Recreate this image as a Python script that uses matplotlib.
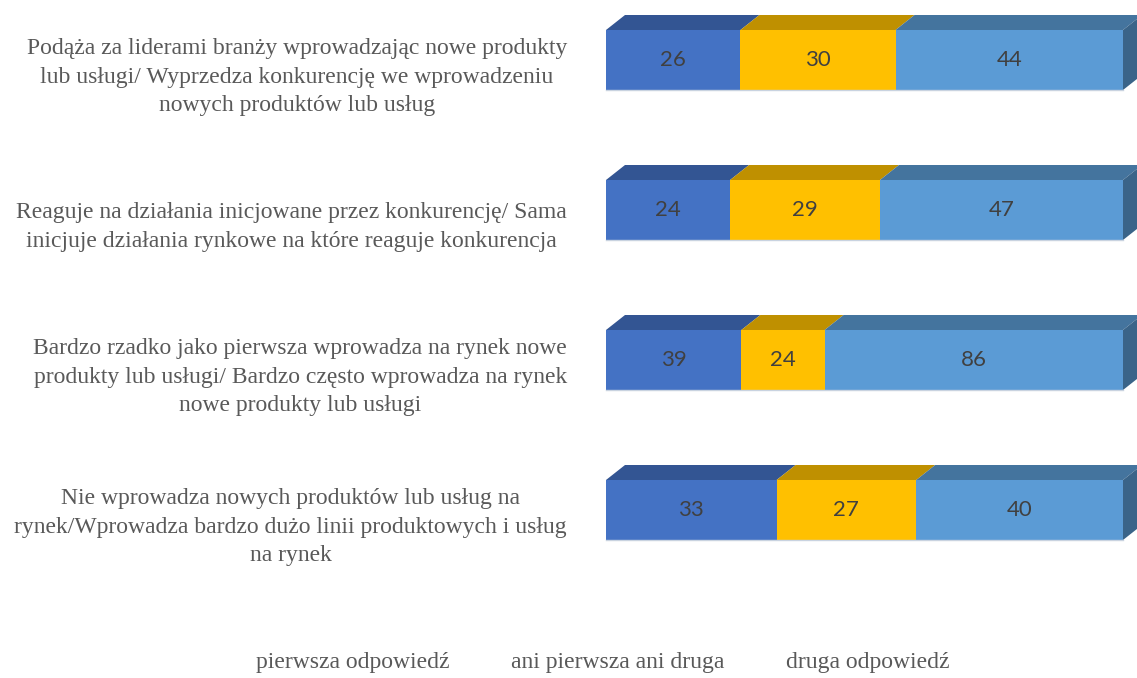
import matplotlib
matplotlib.use("Agg")
import matplotlib.pyplot as plt
from matplotlib.patches import Polygon, Rectangle
import numpy as np

categories = [
    "Podąża za liderami branży wprowadzając nowe produkty\nlub usługi/ Wyprzedza konkurencję we wprowadzeniu\nnowych produktów lub usług",
    "Reaguje na działania inicjowane przez konkurencję/ Sama\ninicjuje działania rynkowe na które reaguje konkurencja",
    "Bardzo rzadko jako pierwsza wprowadza na rynek nowe\nprodukty lub usługi/ Bardzo często wprowadza na rynek\nnowe produkty lub usługi",
    "Nie wprowadza nowych produktów lub usług na\nrynek/Wprowadza bardzo dużo linii produktowych i usług\nna rynek",
]
series_names = ["pierwsza odpowiedź", "ani pierwsza ani druga", "druga odpowiedź"]
pierwsza = [26, 24, 39, 33]
ani = [30, 29, 24, 27]
druga = [44, 47, 86, 40]

front_colors = ["#4472C4", "#FFC000", "#5B9BD5"]
top_colors = ["#335593", "#BF9000", "#44749E"]
side_color = "#3A6489"

W, H = 1137, 678
fig = plt.figure(figsize=(W / 100, H / 100), dpi=100)
ax = fig.add_axes([606 / W, (H - 600) / H, 517 / W, 600 / H])
ax.set_xlim(0, 100)
ax.set_ylim(3.6, -0.4)
ax.axis("off")

data = np.array([pierwsza, ani, druga], dtype=float)
totals = data.sum(axis=0)
shares = data / totals * 100

bar_h = 0.4
dx = 19 / 517 * 100
dy = 15 / 150

y = np.arange(len(categories))
left = np.zeros(len(categories))
for s in range(3):
    ax.barh(y, shares[s], left=left, height=bar_h, color=front_colors[s],
            edgecolor="none", zorder=3, label=series_names[s])
    for i in range(len(categories)):
        x0, x1 = left[i], left[i] + shares[s][i]
        ytop = y[i] - bar_h / 2
        top = Polygon([[x0, ytop], [x1, ytop], [x1 + dx, ytop - dy], [x0 + dx, ytop - dy]],
                      closed=True, facecolor=top_colors[s], edgecolor="none",
                      clip_on=False, zorder=2)
        ax.add_patch(top)
        ax.text((x0 + x1) / 2, y[i], f"{int(data[s][i])}", ha="center", va="center",
                fontsize=16, color="#404040", family="Lato", zorder=5)
    left = left + shares[s]

for i in range(len(categories)):
    ytop = y[i] - bar_h / 2
    ybot = y[i] + bar_h / 2
    side = Polygon([[100, ytop], [100 + dx, ytop - dy], [100 + dx, ybot - dy], [100, ybot]],
                   closed=True, facecolor=side_color, edgecolor="none",
                   clip_on=False, zorder=2)
    ax.add_patch(side)
    ax.plot([0, 100], [ybot, ybot], color="#C9D3E0", lw=1, zorder=4, clip_on=False)
    fig.text(567 / W, 1 - (77 + 150 * i) / H, categories[i], ha="right", va="center",
             multialignment="center", fontsize=17, color="#595959",
             family="Liberation Serif", linespacing=1.47)

handles = [Rectangle((0, 0), 1, 1, visible=False) for _ in series_names]
leg = fig.legend(handles, series_names, loc="center", bbox_to_anchor=(603 / W, 1 - 662 / H),
                 ncol=3, frameon=False, handlelength=0, handletextpad=0,
                 columnspacing=2.6, prop={"family": "Liberation Serif", "size": 17})
for t in leg.get_texts():
    t.set_color("#595959")

fig.savefig("out.png", dpi=100)
